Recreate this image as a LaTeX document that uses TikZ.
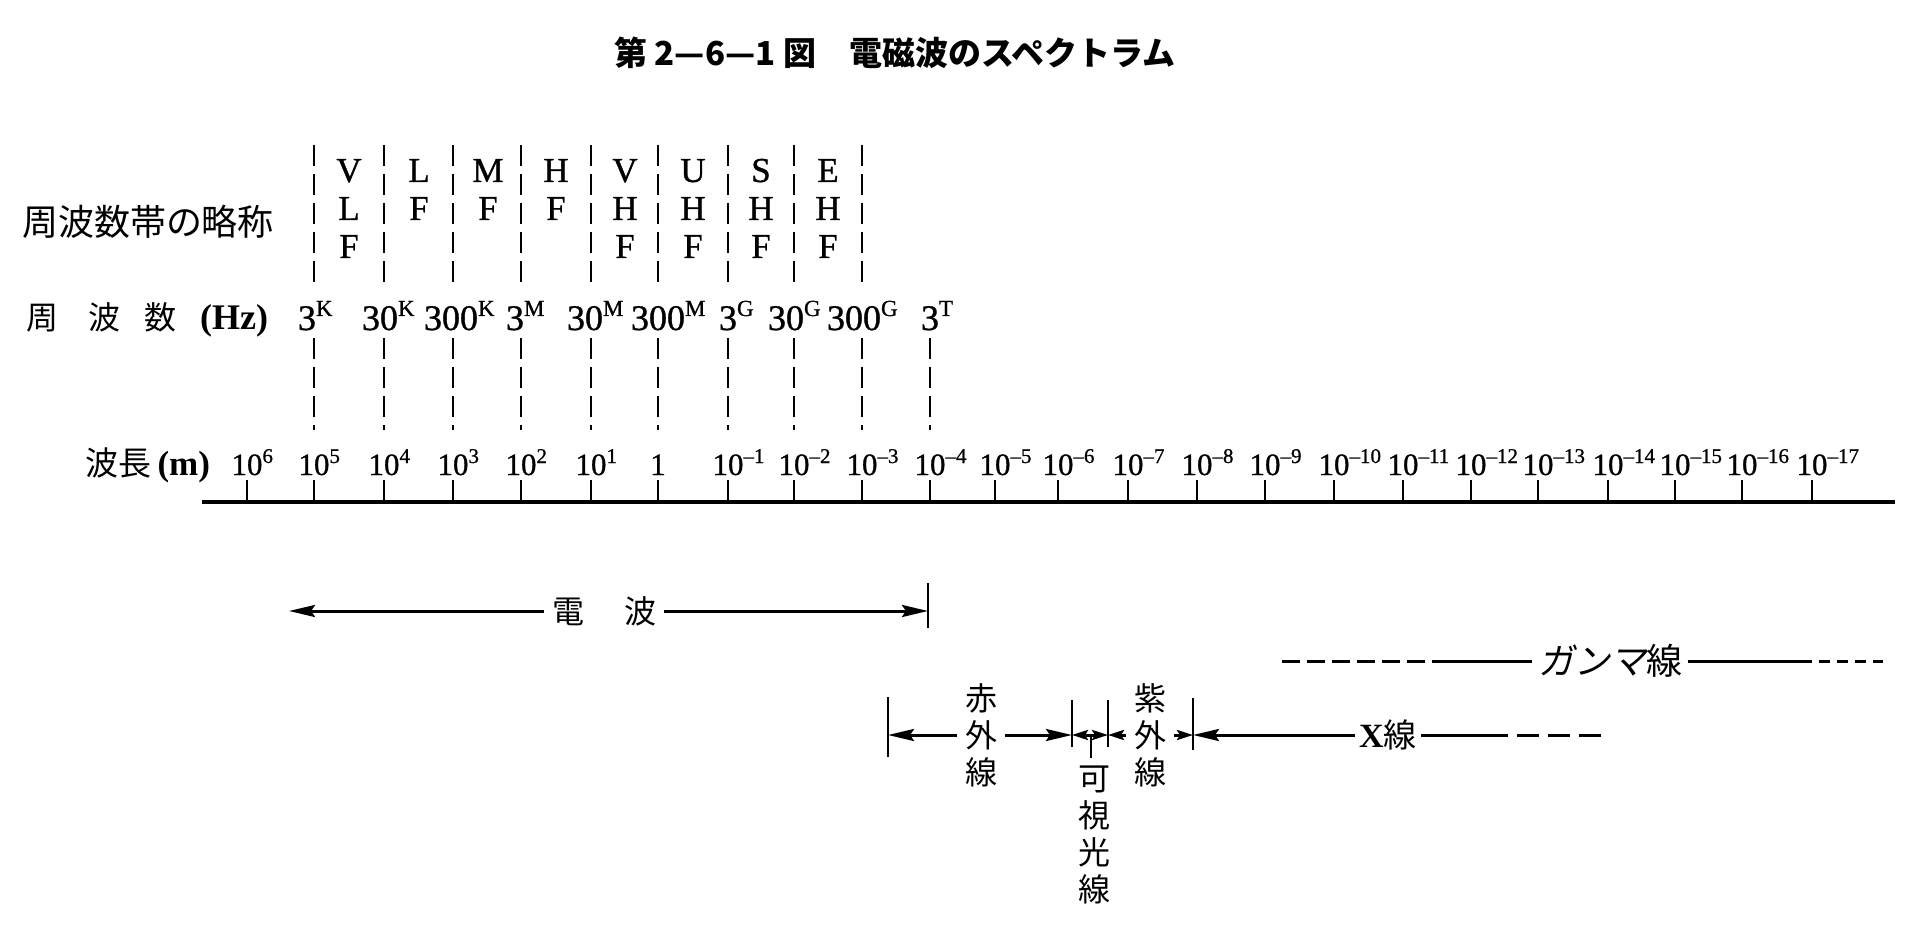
\documentclass[tikz,border=0pt]{standalone}
\usepackage{fontspec}
\setmainfont{Liberation Serif}
\newfontfamily\srb[FakeBold=0.9]{Liberation Serif}
\newfontfamily\jp{Noto Sans CJK JP}
\newfontfamily\jpsl[FakeSlant=0.2]{Noto Sans CJK JP}
\usetikzlibrary{arrows.meta}
\newsavebox\lblbox
\newcommand\ctrsup[2]{\sbox\lblbox{#1}\kern-.5\wd\lblbox\rlap{\usebox\lblbox#2}\kern.5\wd\lblbox}
\newcommand\fqs[1]{\raisebox{14pt}{\fontsize{23}{23}\selectfont #1}}
\newcommand\wls[1]{\raisebox{12pt}{\fontsize{21}{21}\selectfont #1}}
\tikzset{
  every node/.style={inner sep=0pt, outer sep=0pt},
  ttl/.style={font=\jp\bfseries\fontsize{33}{33}\selectfont},
  jpl/.style={font=\jp\fontsize{32}{32}\selectfont},
  jpbig/.style={font=\jp\fontsize{36}{36}\selectfont},
  band/.style={font=\srb\fontsize{35}{38}\selectfont},
  fq/.style={font=\srb\fontsize{36}{38}\selectfont},
  wl/.style={font=\srb\fontsize{31}{32}\selectfont},
  vcol/.style={font=\jp\fontsize{32}{37}\selectfont, align=center, inner xsep=8pt},
  freqline/.style={line width=2pt, dash pattern=on 21pt off 8pt},
  axisline/.style={line width=4.5pt},
  tickline/.style={line width=2.2pt},
  barline/.style={line width=2.2pt},
  arr/.style={line width=3pt, -{Stealth[length=26pt,width=12pt,inset=4pt]}},
  arrs/.style={line width=3pt, -{Stealth[length=16pt,width=10pt,inset=3pt]}},
  gdash/.style={line width=3pt, dash pattern=on 18pt off 7pt},
  gdashs/.style={line width=3pt, dash pattern=on 11pt off 7pt},
  xdash/.style={line width=3pt, dash pattern=on 22pt off 9pt},
  plain/.style={line width=3pt},
}
\begin{document}
\begin{tikzpicture}[x=1pt,y=-1pt]
\useasboundingbox (0,0) rectangle (1917,933);
% title
\node[ttl] (title) at (895,53) {第 2—6—1 図　電磁波のスペクトラム};

% axis and ticks
\foreach \x [count=\i from 0] in {247,314,384,453,521,591,658,728,794,862,930,995,1058,1128,1197,1265,1334,1403,1471,1538,1608,1675,1742,1812}{
  \coordinate (t\i) at (\x,502);
  \coordinate (u\i) at (\x,480);
  \coordinate (w\i) at (\x,475);
}
\coordinate (axL) at (202,502);
\coordinate (axR) at (1895,502);
\draw[axisline] (axL) -- (axR);
\foreach \i in {0,...,23} \draw[tickline] (u\i) -- (t\i);

% wavelength labels
\foreach \i/\e in {0/6,1/5,2/4,3/3,4/2,5/1,7/–1,8/–2,9/–3,10/–4,11/–5,12/–6,13/–7,14/–8,15/–9,16/–10,17/–11,18/–12,19/–13,20/–14,21/–15,22/–16,23/–17}
  \node[wl, anchor=base] (wl\i) at (w\i) {\ctrsup{10}{\wls{\e}}};
\node[wl, anchor=base] (wl6) at (w6) {1};

% frequency dashed lines
\foreach \i in {1,...,9}{
  \coordinate (fa\i) at (t\i |- 0,145);
  \coordinate (fb\i) at (t\i |- 0,288);
  \draw[freqline] (fa\i) -- (fb\i);
}
\foreach \i in {1,...,10}{
  \coordinate (fc\i) at (t\i |- 0,338);
  \coordinate (fd\i) at (t\i |- 0,430);
  \draw[freqline] (fc\i) -- (fd\i);
}

% frequency labels
\foreach \i/\b/\s/\dx in {1/3/K/-7,2/30/K/-4,3/300/K/-2,4/3/M/-6,5/30/M/-6,6/300/M/0,7/3/G/0,8/30/G/-8,9/300/G/-8,10/3/T/0}
  \path (t\i |- 0,330) ++(\dx,0) node[fq, anchor=base] (f\i) {\ctrsup{\b}{\fqs{\s}}};

% band abbreviations
\foreach \x/\r/\l [count=\k] in {349/0/V,349/1/L,349/2/F, 419/0/L,419/1/F, 488/0/M,488/1/F, 556/0/H,556/1/F, 625/0/V,625/1/H,625/2/F, 693/0/U,693/1/H,693/2/F, 761/0/S,761/1/H,761/2/F, 828/0/E,828/1/H,828/2/F}
  \node[band, anchor=base] (bl\k) at (\x,{182+38*\r}) {\l};

% left labels
\node[jpbig, anchor=west] (bandname) at (22,222) {周波数帯の略称};
\node[jpl, anchor=base] (fz1) at (43,330) {周};
\node[jpl, anchor=base] (fz2) at (104,330) {波};
\node[jpl, anchor=base] (fz3) at (160,330) {数};
\node[font=\bfseries\fontsize{36}{36}\selectfont, anchor=base east] (hz) at (268,330) {(Hz)};
\node[font=\bfseries\fontsize{35}{35}\selectfont, anchor=base east] (wlname) at (210,475) {{\jp\mdseries\fontsize{33}{33}\selectfont 波長}\,(m)};

% radio waves
\node[jpl, inner xsep=8pt] (denpa) at (604,611) {電\hspace{40pt}波};
\coordinate (rwL) at (289,611);
\coordinate (rwR) at (928,611);
\coordinate (rbT) at (928,583);
\coordinate (rbB) at (928,628);
\draw[arr] (denpa) -- (rwL);
\draw[arr] (denpa) -- (rwR);
\draw[barline] (rbT) -- (rbB);

% gamma rays
\node[font=\fontsize{36}{36}\selectfont, inner xsep=6pt] (gamma) at (1610,661) {{\jpsl ガンマ}{\jp 線}};
\coordinate (gL) at (1282,661);
\coordinate (g1) at (1447,661);
\coordinate (g2) at (1801,661);
\coordinate (gR) at (1883,661);
\draw[gdash] (gL) -- (g1);
\draw[plain] (g1) -- (gamma);
\draw[plain] (gamma) -- (g2);
\draw[gdashs] (g2) -- (gR);

% infrared / visible / ultraviolet / X-rays
\coordinate (b1t) at (888,697); \coordinate (b1b) at (888,757); \coordinate (b1m) at (888,735);
\coordinate (b2t) at (1072,700); \coordinate (b2b) at (1072,747); \coordinate (b2m) at (1072,735);
\coordinate (b3t) at (1108,700); \coordinate (b3b) at (1108,747); \coordinate (b3m) at (1108,735);
\coordinate (b4t) at (1193,698); \coordinate (b4b) at (1193,750); \coordinate (b4m) at (1193,735);
\foreach \b in {b1,b2,b3,b4} \draw[barline] (\b t) -- (\b b);

\node[vcol] (ir) at (981,735) {赤\\外\\線};
\node[vcol] (uv) at (1150,735) {紫\\外\\線};
\node[vcol, inner ysep=3pt] (vis) at (1094,835) {可\\視\\光\\線};

\draw[arr] (ir) -- (b1m);
\draw[arr] (ir) -- (b2m);
\coordinate (vm) at (1091,735);
\coordinate (vt) at (1091,758);
\draw[arrs] (vm) -- (b2m);
\draw[arrs] (vm) -- (b3m);
\draw[barline] (vm) -- (vt);
\draw[arrs] (uv) -- (b3m);
\draw[arrs] (uv) -- (b4m);

\node[font=\bfseries\fontsize{34}{34}\selectfont, inner xsep=4pt] (xr) at (1388,735) {X{\jp\mdseries\fontsize{33}{33}\selectfont 線}};
\coordinate (x1) at (1486,735);
\coordinate (x2) at (1601,735);
\draw[arr] (xr) -- (b4m);
\draw[plain] (xr) -- (x1);
\draw[xdash] (x1) -- (x2);
\end{tikzpicture}
\end{document}
